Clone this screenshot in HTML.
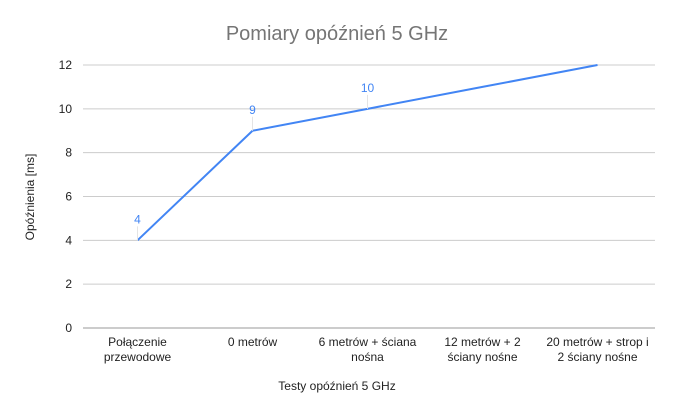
<!DOCTYPE html>
<html><head><meta charset="utf-8"><style>
html,body{margin:0;padding:0;background:#fff;}
svg{display:block;font-family:"Liberation Sans",Arial,sans-serif;}
</style></head><body>
<svg id="chart" width="674" height="416" viewBox="0 0 674 416">
<text x="337" y="40" text-anchor="middle" font-size="20" fill="#757575">Pomiary opóźnień 5 GHz</text>
<text x="337" y="390" text-anchor="middle" font-size="12" fill="#222">Testy opóźnień 5 GHz</text>
<text transform="translate(34,197) rotate(-90)" text-anchor="middle" font-size="12" fill="#222">Opóźnienia [ms]</text>
<g id="grid"></g><g id="xlabels"></g><g id="series"></g>
</svg>
<script>
const categories=[["Połączenie","przewodowe"],["0 metrów"],["6 metrów + ściana","nośna"],["12 metrów + 2","ściany nośne"],["20 metrów + strop i","2 ściany nośne"]];
const values=[4,9,10,11,12];
const labelShown=[true,true,true,false,false];
const yTicks=[0,2,4,6,8,10,12];
const NS="http://www.w3.org/2000/svg";
const L=80,R=655,T=65,B=328,ymax=12;
const step=(R-L)/categories.length;
function x(i){return L+step*(i+0.5);}
function y(v){return B-(B-T)*v/ymax;}
function mk(t,a,p){const e=document.createElementNS(NS,t);for(const k in a)e.setAttribute(k,a[k]);p.appendChild(e);return e;}
const g=document.getElementById('grid');
yTicks.forEach(v=>{
 const ln=mk('line',{x1:83,x2:R,y1:y(v),y2:y(v),stroke:v===0?'#999':'#ccc','stroke-width':1},g);
 
 
 const t=mk('text',{x:72,y:y(v)+4,'text-anchor':'end','font-size':12,fill:'#222'},g);
 t.textContent=v;
 
 
});
const xl=document.getElementById('xlabels');
categories.forEach((c,i)=>{
 const t=mk('text',{x:x(i),'text-anchor':'middle','font-size':12,fill:'#222'},xl);
 
 
 c.forEach((s,j)=>{const ts=mk('tspan',{x:x(i),y:346+j*15},t);ts.textContent=s;});
});
const s=document.getElementById('series');
const path=mk('path',{d:values.map((v,i)=>(i?'L':'M')+x(i)+','+y(v)).join(' '),fill:'none',stroke:'#4285f4','stroke-width':2,'stroke-linejoin':'round'},s);


values.forEach((v,i)=>{
 if(!labelShown[i])return;
 const ll=mk('line',{x1:x(i),x2:x(i),y1:y(v),y2:y(v)-14,stroke:'#e4e4e4','stroke-width':1},s);
 
 
 const t=mk('text',{x:x(i),y:y(v)-17,'text-anchor':'middle','font-size':12,fill:'#4285f4'},s);
 t.textContent=v;
 
 
});
</script>
</body></html>
